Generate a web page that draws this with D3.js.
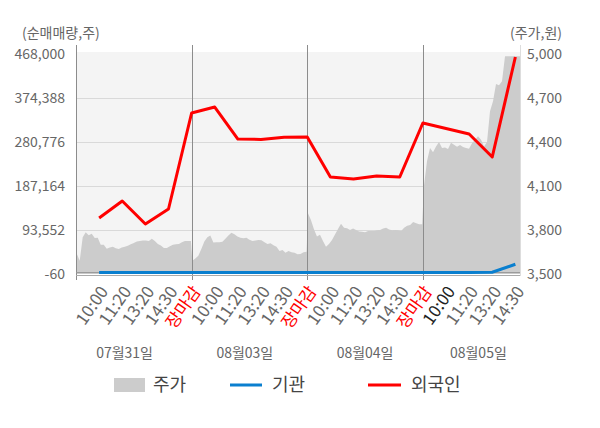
<!DOCTYPE html>
<html>
<head>
<meta charset="utf-8">
<script src="https://cdn.jsdelivr.net/npm/d3@7"></script>
<style>
  body { margin: 0; background: #fff; }
  text { font-family: "Noto Sans CJK KR", "Noto Sans", sans-serif; }
</style>
</head>
<body>
<div id="chart"></div>
<script>
// x tick labels, one per data slot (index 1..19)
const timeLabels = ["10:00", "11:20", "13:20", "14:30", "장마감",
                    "10:00", "11:20", "13:20", "14:30", "장마감",
                    "10:00", "11:20", "13:20", "14:30", "장마감",
                    "10:00", "11:20", "13:20", "14:30"];
const dates = ["07월31일", "08월03일", "08월04일", "08월05일"];
const datePos = [2.1, 7.3, 12.5, 17.4];

// net buying (shares)
const foreign = [119080, 155250, 106300, 138230, 342470, 355230, 287150, 286150, 290800, 291400,
                 206300, 202100, 208400, 206300, 321200, 309500, 297800, 248900, 461600];
const inst = [3000, 3000, 3000, 3000, 3000, 3000, 3000, 3000, 3000, 3000,
              3000, 3000, 3000, 3000, 3000, 3000, 3000, 3600, 20600];

// intraday price, per day
const price1 = [3640, 3590, 3750, 3785, 3765, 3775, 3745, 3747, 3700, 3700, 3672, 3680, 3686,
                3675, 3670, 3680, 3686, 3693, 3702, 3712, 3722, 3725, 3728, 3728, 3725, 3740,
                3725, 3705, 3695, 3678, 3678, 3690, 3700, 3702, 3705, 3716, 3725, 3725, 3725];
const price2 = [3590, 3605, 3625, 3670, 3722, 3750, 3762, 3715, 3717, 3717, 3720, 3740, 3763,
                3782, 3771, 3756, 3747, 3744, 3747, 3734, 3725, 3728, 3732, 3730, 3716, 3705,
                3709, 3696, 3686, 3656, 3664, 3645, 3657, 3648, 3645, 3634, 3637, 3648, 3652];
const price3 = [3914, 3868, 3805, 3755, 3768, 3725, 3686, 3704, 3732, 3770, 3807, 3842, 3816,
                3812, 3800, 3810, 3800, 3790, 3788, 3784, 3793, 3793, 3793, 3798, 3800, 3810,
                3816, 3804, 3798, 3800, 3798, 3793, 3815, 3829, 3834, 3854, 3846, 3839, 3839];
const price4 = [4105, 4270, 4359, 4330, 4370, 4400, 4359, 4362, 4352, 4395, 4382, 4367, 4380,
                4366, 4359, 4354, 4392, 4416, 4439, 4416, 4370, 4400, 4609, 4677, 4795, 4787,
                4814, 4984, 4984, 4984, 4984, 4984, 4984];

const leftTicks = [-60, 93552, 187164, 280776, 374388, 468000];
const rightTicks = [3500, 3800, 4100, 4400, 4700, 5000];

const W = 600, H = 428;
const plotL = 76, plotR = 520, plotT = 54, plotB = 274;

const svg = d3.select("#chart").append("svg")
  .attr("width", W)
  .attr("height", H);

const x = d3.scaleLinear().domain([0, 19.2]).range([plotL, plotR]);
const yL = d3.scaleLinear().domain([-60, 468000]).range([plotB, plotT]);
const yR = d3.scaleLinear().domain([3500, 5000]).range([plotB, plotT]);

// plot background
svg.append("rect")
  .attr("x", plotL).attr("y", plotT - 2)
  .attr("width", plotR - plotL).attr("height", plotB - plotT + 2)
  .attr("fill", "#f4f4f4");

// grid lines
svg.selectAll(".grid")
  .data(leftTicks.slice(1, -1))
  .enter().append("line")
  .attr("x1", plotL).attr("x2", plotR)
  .attr("y1", d => Math.round(yL(d)) + 0.5)
  .attr("y2", d => Math.round(yL(d)) + 0.5)
  .attr("stroke", "#d9d9d9");

// price area, days laid out on the slot index
const spans = [[0.03, 4.97], [5.03, 9.97], [10.03, 14.97], [15.05, 19.2]];
const priceData = [];
[price1, price2, price3, price4].forEach((arr, k) => {
  const s = d3.scaleLinear().domain([0, arr.length - 1]).range(spans[k]);
  arr.forEach((p, j) => priceData.push({ i: s(j), p: p }));
});

svg.append("path")
  .datum(priceData)
  .attr("fill", "#cccccc")
  .attr("d", d3.area()
    .x(d => x(d.i))
    .y0(yR(3500))
    .y1(d => yR(d.p)));

// day dividers
svg.selectAll(".divider")
  .data([5, 10, 15])
  .enter().append("line")
  .attr("x1", d => Math.round(x(d)) + 0.5)
  .attr("x2", d => Math.round(x(d)) + 0.5)
  .attr("y1", 45).attr("y2", 280)
  .attr("stroke", "#8c8c8c");

// left axis line and right edge
svg.append("line")
  .attr("x1", plotL + 0.5).attr("x2", plotL + 0.5)
  .attr("y1", 45).attr("y2", 280)
  .attr("stroke", "#8c8c8c");
svg.append("line")
  .attr("x1", plotR + 0.5).attr("x2", plotR + 0.5)
  .attr("y1", 45).attr("y2", 276)
  .attr("stroke", "#dddddd");

// bottom baseline
svg.append("line")
  .attr("x1", plotL).attr("x2", plotR)
  .attr("y1", 275.5).attr("y2", 275.5)
  .attr("stroke", "#aaaaaa");
svg.append("line")
  .attr("x1", plotL).attr("x2", plotR)
  .attr("y1", yL(3000)).attr("y2", yL(3000))
  .attr("stroke", "#999999");

// series lines
const line = d3.line().x((d, i) => x(i + 1)).y(d => yL(d));

svg.append("path")
  .datum(inst)
  .attr("fill", "none")
  .attr("stroke", "#0a7fcf")
  .attr("stroke-width", 3)
  .attr("d", line);

svg.append("path")
  .datum(foreign)
  .attr("fill", "none")
  .attr("stroke", "#ff0000")
  .attr("stroke-width", 3)
  .attr("stroke-linejoin", "round")
  .attr("d", line);

// left tick labels
const fmt = d => d3.format(",")(d).replace("−", "-");
svg.selectAll(".lt")
  .data(leftTicks)
  .enter().append("text")
  .attr("x", 65)
  .attr("y", d => yL(d))
  .attr("dy", "0.35em")
  .attr("text-anchor", "end")
  .attr("font-size", 14)
  .attr("fill", "#666")
  .text(d => fmt(d));

// right tick labels
svg.selectAll(".rt")
  .data(rightTicks)
  .enter().append("text")
  .attr("x", 527)
  .attr("y", d => yR(d))
  .attr("dy", "0.35em")
  .attr("font-size", 14)
  .attr("fill", "#666")
  .text(d => fmt(d));

// unit labels
svg.append("text")
  .attr("x", 22).attr("y", 33).attr("dy", "0.35em")
  .attr("font-size", 14).attr("fill", "#666")
  .text("(순매매량,주)");
svg.append("text")
  .attr("x", 562).attr("y", 33).attr("dy", "0.35em")
  .attr("text-anchor", "end")
  .attr("font-size", 14).attr("fill", "#666")
  .text("(주가,원)");

// x tick labels
svg.selectAll(".xt")
  .data(timeLabels)
  .enter().append("text")
  .attr("transform", (d, i) => `translate(${x(i + 1) + 5},${288}) rotate(-55)`)
  .attr("text-anchor", "end")
  .attr("dy", "0.35em")
  .attr("font-size", 17)
  .attr("fill", (d, i) => d === "장마감" ? "#ff0000" : (i === 15 ? "#222" : "#666"))
  .text(d => d);

// date labels
svg.selectAll(".dt")
  .data(dates)
  .enter().append("text")
  .attr("x", (d, i) => x(datePos[i]))
  .attr("y", 353)
  .attr("dy", "0.35em")
  .attr("text-anchor", "middle")
  .attr("font-size", 14)
  .attr("fill", "#666")
  .text(d => d);

// legend
const legend = svg.append("g").attr("transform", "translate(0,385)");
legend.append("rect")
  .attr("x", 114).attr("y", -7)
  .attr("width", 31).attr("height", 14)
  .attr("fill", "#cccccc");
legend.append("text")
  .attr("x", 153).attr("dy", "0.35em")
  .attr("font-size", 18).attr("fill", "#444")
  .text("주가");
legend.append("line")
  .attr("x1", 230).attr("x2", 262)
  .attr("stroke", "#0a7fcf").attr("stroke-width", 3);
legend.append("text")
  .attr("x", 272).attr("dy", "0.35em")
  .attr("font-size", 18).attr("fill", "#444")
  .text("기관");
legend.append("line")
  .attr("x1", 368).attr("x2", 401)
  .attr("stroke", "#ff0000").attr("stroke-width", 3);
legend.append("text")
  .attr("x", 411).attr("dy", "0.35em")
  .attr("font-size", 18).attr("fill", "#444")
  .text("외국인");
</script>
</body>
</html>
